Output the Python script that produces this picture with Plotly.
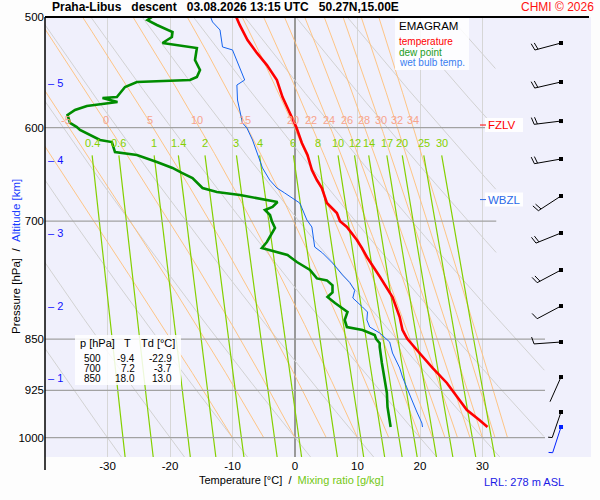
import numpy as np
import plotly.graph_objects as go

# Praha-Libus descent 03.08.2026 13:15 UTC
# temperature [hPa] / [degC]
t_p = [500, 506.6, 519.3, 530.5, 541.2, 554.7, 570.5, 585.7, 599.4, 615.4, 627.6, 643.4,
       654.1, 662.7, 679.3, 690.6, 700, 706.7, 722.0, 731.6, 742.5, 767.4, 793.1, 819.7,
       837.4, 848.6, 850, 865.5, 891.5, 913.8, 935.2, 955.4, 971.3, 982.6]
t_val = [-9.4, -8.85, -7.6, -6.1, -4.5, -2.9, -2.0, -0.85, 0.2, 1.1, 2.0, 2.7,
         3.5, 4.3, 5.1, 6.7, 7.2, 8.3, 9.9, 10.7, 11.5, 13.6, 15.6, 16.75,
         17.2, 17.9, 18.0, 19.5, 22.0, 24.3, 25.9, 27.5, 29.5, 30.8]

# dew point
td_p = [500, 502.5, 506.6, 512.5, 516.8, 521.9, 526.2, 536.7, 545.6, 552.0, 554.7, 556.5,
        561.1, 570.5, 571.4, 575.2, 579.0, 582.8, 587.6, 595.4, 599.4, 602.3, 612.3, 614.4,
        624.6, 627.7, 634.9, 641.2, 646.5, 651.9, 662.7, 667.1, 670.4, 674.9, 678.2, 683.8,
        687.2, 692.9, 700, 707.9, 724.4, 731.6, 736.4, 740.1, 748.7, 758.6, 769.2, 771.7,
        778.1, 787.1, 793.1, 801.0, 813.0, 823.7, 833.3, 837.4, 844.4, 850, 855.8, 861.2,
        884.2, 909.3, 929.0, 950.7, 971.3, 982.6]
td_val = [-22.9, -23.6, -22.1, -19.6, -19.7, -21.2, -15.7, -16.0, -15.2, -15.7, -16.8, -25.3,
          -27.2, -28.5, -30.8, -28.4, -33.3, -35.2, -36.4, -36.0, -34.9, -34.4, -31.2, -29.3,
          -28.8, -25.3, -22.1, -19.6, -18.1, -16.4, -14.8, -12.5, -8.8, -5.2, -2.8, -3.6,
          -4.8, -4.0, -3.7, -3.2, -4.5, -5.3, -2.8, -1.2, 0.3, 2.4, 3.5, 5.1,
          6.0, 6.0, 5.2, 6.4, 8.4, 7.95, 8.3, 10.8, 12.75, 13.0, 13.55, 13.55,
          13.9, 14.35, 14.7, 14.8, 15.15, 15.3]

# wet bulb temperature
tw_p = [500, 504.1, 510.8, 525.3, 527.9, 542.9, 554.7, 559.3, 573.3, 595.4, 600.3, 612.3,
        625.6, 641.2, 654.1, 662.7, 668.2, 673.7, 679.3, 684.9, 692.9, 698.6, 706.7, 713.7,
        730.4, 737.6, 749.9, 764.9, 774.3, 784.5, 794.4, 806.3, 813.0, 823.7, 833.3, 841.6,
        854.2, 869.8, 891.5, 904.9, 919.9, 939.8, 958.6, 976.1, 982.6]
tw_val = [-13.5, -13.2, -12.0, -11.6, -10.0, -8.85, -8.05, -9.3, -9.2, -8.4, -7.7, -6.8,
          -6.0, -5.2, -4.05, -2.9, -1.65, -0.4, 0.75, 1.1, 1.55, 1.9, 2.7, 2.85,
          3.15, 4.4, 6.0, 7.6, 8.75, 9.55, 9.25, 10.8, 11.6, 11.5, 11.95, 13.55,
          15.15, 15.6, 16.75, 17.2, 17.9, 18.7, 19.5, 20.3, 20.4]

table_p = [500, 700, 850]
table_t = [-9.4, 7.2, 18.0]
table_td = [-22.9, -3.7, 13.0]

# wind every 500 m: direction [deg], speed [kt]
wind_p = [521.9, 556.5, 593.5, 631.8, 671.5, 713.7, 758.6, 805.0, 854.2, 904.9, 958.6]
wind_dir = [255, 257, 263, 260, 237, 248, 242, 242, 266, 204, 199]
wind_kt = [20, 20, 20, 20, 20, 20, 20, 10, 10, 2, 5]
sfc_p, sfc_dir, sfc_kt = 982.6, 198, 5

alt_km = [1, 2, 3, 4, 5]
alt_p = [906.4, 805.0, 713.7, 632.8, 557.4]

fzlv_p = 597.4
wbzl_p = 675.5
lrl_m = 278

# diagram lines
isotherms = [-30, -20, -10, 0, 10, 20, 30]
isobars = [600, 700, 850, 925, 1000]
pres_ticks = [500, 600, 700, 850, 925, 1000]
theta_c = list(range(-30, 140, 10))
theta_w = [-10, -5, 0, 5, 10, 15, 20, 22, 24, 26, 28, 30, 32, 34]
mix_ratio = [0.4, 0.6, 1, 1.4, 2, 3, 4, 6, 8, 10, 12, 14, 17, 20, 25, 30]

# frame in pixels
L, R, TOP, BOT = 45, 591, 17, 457
T_LEFT, T_RIGHT = -40.0, 47.36
P_TOP, P_BOT = 500.0, 1032.35
LNP = np.log(P_BOT / P_TOP)
BARB_X = 561
FONT = "Liberation Sans, Arial, sans-serif"


def xpix(t):
    return L + (t - T_LEFT) / (T_RIGHT - T_LEFT) * (R - L)


def ypix(p):
    return TOP + np.log(p / P_TOP) / LNP * (BOT - TOP)


def pix2t(x):
    return T_LEFT + (x - L) / (R - L) * (T_RIGHT - T_LEFT)


def pix2p(y):
    return P_TOP * np.exp((y - TOP) / (BOT - TOP) * LNP)


def fx(x):
    return (x - L) / (R - L)


def fy(y):
    return (BOT - y) / (BOT - TOP)


def t_limit(p):
    return np.interp(p, [800, 850], [32.2, 40.0])


def merge(curves):
    xs, ys = [], []
    for t, p in curves:
        for a, b in zip(t, p):
            xs.append(None if a > t_limit(b) else float(a))
            ys.append(float(b))
        xs.append(None)
        ys.append(None)
    return xs, ys


fig = go.Figure()

# dry adiabats
pp = np.geomspace(P_TOP, P_BOT, 300)
dry = [((th + 273.15) * (pp / 1000) ** 0.2857 - 273.15, pp) for th in theta_c]
x, y = merge(dry)
fig.add_trace(go.Scatter(x=x, y=y, mode="lines", line=dict(color="#d2d2d2", width=1)))


# pseudo-adiabats
def es(tk):
    return 6.112 * np.exp(17.67 * (tk - 273.15) / (tk - 29.65))


def lapse(tk, p):
    e = es(tk)
    r = 0.622 * e / (p - e)
    return (287.04 * tk + 2.501e6 * r) / (p * (1005.7 + 2.501e6 ** 2 * r * 0.622 / (287.04 * tk ** 2)))


ps = np.arange(1000, 496, -2.0)
tk = np.array(theta_w, dtype=float) + 273.15
rows = [tk.copy()]
for i in range(len(ps) - 1):
    p, h = ps[i], ps[i + 1] - ps[i]
    k1 = lapse(tk, p)
    k2 = lapse(tk + h / 2 * k1, p + h / 2)
    k3 = lapse(tk + h / 2 * k2, p + h / 2)
    k4 = lapse(tk + h * k3, p + h)
    tk = tk + h / 6 * (k1 + 2 * k2 + 2 * k3 + k4)
    rows.append(tk.copy())
moist = np.array(rows) - 273.15
x, y = merge([(moist[:, j], ps) for j in range(len(theta_w))])
fig.add_trace(go.Scatter(x=x, y=y, mode="lines", line=dict(color="#ffc078", width=0.9)))

# mixing ratio lines
pm = np.geomspace(628, P_BOT, 120)
mix = []
for w in mix_ratio:
    lx = np.log(w * pm / (622 + w) / 6.112)
    mix.append((243.5 * lx / (17.67 - lx), pm))
x, y = merge(mix)
fig.add_trace(go.Scatter(x=x, y=y, mode="lines", line=dict(color="#84d000", width=1.2)))

# isobars
xb, yb = [], []
for p in isobars:
    xb += [T_LEFT, float(t_limit(p)), None]
    yb += [p, p, None]
fig.add_trace(go.Scatter(x=xb, y=yb, mode="lines", line=dict(color="#a2a2a2", width=1.3)))

# profiles
fig.add_trace(go.Scatter(x=tw_val, y=tw_p, mode="lines", line=dict(color="#1464f0", width=1)))
fig.add_trace(go.Scatter(x=td_val, y=td_p, mode="lines", line=dict(color="#008c00", width=2.6)))
fig.add_trace(go.Scatter(x=t_val, y=t_p, mode="lines", line=dict(color="#ff0000", width=2.6)))


# wind barbs
def barb(p, d, kt):
    x0, y0 = BARB_X, float(ypix(p))
    ang = np.radians(d)
    u = np.array([np.sin(ang), -np.cos(ang)])
    n = np.array([np.cos(ang), np.sin(ang)])
    start = np.array([x0, y0])
    end = start + 27 * u
    segs = [(start, end)]
    full, half = kt // 10, (kt % 10) >= 5
    for k in range(full):
        q = end - 3.2 * k * u
        segs.append((q, q + 7 * n + 2 * u))
    if half:
        q = end - 3.2 * full * u
        segs.append((q, q + 4 * n + 1 * u))
    xs, ys = [], []
    for a, b in segs:
        xs += [pix2t(a[0]), pix2t(b[0]), None]
        ys += [pix2p(a[1]), pix2p(b[1]), None]
    return xs, ys


bx, by = [], []
for p, d, s in zip(wind_p, wind_dir, wind_kt):
    a, b = barb(p, d, s)
    bx += a
    by += b
fig.add_trace(go.Scatter(x=bx, y=by, mode="lines", line=dict(color="black", width=1)))
fig.add_trace(go.Scatter(x=[pix2t(BARB_X)] * len(wind_p), y=wind_p, mode="markers",
                         marker=dict(symbol="square", size=4, color="black")))
a, b = barb(sfc_p, sfc_dir, sfc_kt)
fig.add_trace(go.Scatter(x=a, y=b, mode="lines", line=dict(color="#0020ff", width=1)))
fig.add_trace(go.Scatter(x=[pix2t(BARB_X)], y=[sfc_p], mode="markers",
                         marker=dict(symbol="square", size=4, color="#0020ff")))

ann = []
shapes = []


def text(x, y, s, size=11, color="black", anchor="left", **kw):
    ann.append(dict(x=fx(x), y=fy(y), xref="paper", yref="paper", text=s, showarrow=False,
                    xanchor=anchor, yanchor="middle", font=dict(family=FONT, size=size, color=color),
                    **kw))


def box(x0, y0, x1, y1, fill="rgba(255,255,255,0.85)"):
    shapes.append(dict(type="rect", xref="paper", yref="paper", x0=fx(x0), x1=fx(x1),
                       y0=fy(y0), y1=fy(y1), fillcolor=fill, line=dict(width=0), layer="above"))


# adiabat and mixing ratio labels
for j, th in enumerate(theta_w):
    tl = np.interp(592.5, ps[::-1], moist[::-1, j])
    if xpix(tl) > 55:
        text(xpix(tl) + 2, ypix(592.5), str(th), size=11, color="#f7a48c", anchor="center")
for (tline, pline), w in zip(mix, mix_ratio):
    text(xpix(tline[0]), ypix(615.4), f"{w:g}", size=11, color="#84d000", anchor="center")

# altitude marks
for km, p in zip(alt_km, alt_p):
    text(46, ypix(p), "\u2013\u00a0" + str(km), size=11, color="#1010ff")

# freezing / wet bulb zero levels
for p, name, col in [(fzlv_p, "FZLV", "#ff0000"), (wbzl_p, "WBZL", "#2a6ae8")]:
    yy = float(ypix(p))
    box(485, yy - 7, 523, yy + 7, fill="rgba(255,255,255,0.9)")
    shapes.append(dict(type="line", xref="paper", yref="paper", x0=fx(480), x1=fx(486),
                       y0=fy(yy), y1=fy(yy), line=dict(color=col, width=1), layer="above"))
    text(486, yy, name, size=11.5, color=col)

# legend
box(395, 17, 469, 70)
text(397, 26, "EMAGRAM", size=11.5)
text(397, 42, "temperature", size=10, color="#ff0000")
text(397, 52, "dew point", size=10, color="#1c9c1c")
text(397, 62, "wet bulb temp.", size=10, color="#3a7ef0")

# table
box(75, 335, 181, 385)
text(78, 343, "p [hPa]", size=11)
text(127, 343, "T", size=11, anchor="center")
text(177, 343, "Td [\u00b0C]", size=11, anchor="right")
for i, (p, t, td) in enumerate(zip(table_p, table_t, table_td)):
    yy = 358 + 10 * i
    text(103, yy, str(p), size=10, anchor="right")
    text(137, yy, f"{t:.1f}", size=10, anchor="right")
    text(174, yy, f"{td:.1f}", size=10, anchor="right")

# titles
sp = "\u00a0"
text(50, 7, "<b>Praha-Libus" + sp * 3 + "descent" + sp * 3 + "03.08.2026 13:15 UTC" + sp * 3
     + "50.27N,15.00E</b>", size=12)
text(596, 7, "CHMI \u00a9 2026", size=12, color="#ff1010", anchor="right")
text(197, 480, "Temperature [\u00b0C]" + sp * 2 + "/" + sp * 2
     + "<span style='color:#74c814'>Mixing ratio [g/kg]</span>", size=11)
text(482, 482, f"LRL: {lrl_m} m ASL", size=11, color="#1a1ae6")
ann.append(dict(x=fx(8), y=fy(257), xref="paper", yref="paper", textangle=-90, showarrow=False,
                text="Pressure [hPa]" + sp * 2 + "/" + sp * 2
                     + "<span style='color:#1a3cff'>Altitude [km]</span>",
                font=dict(family=FONT, size=11.5, color="black")))

# frame lines
shapes.append(dict(type="line", xref="paper", yref="paper", x0=0, x1=0, y0=fy(470), y1=1,
                   line=dict(color="black", width=1.5), layer="above"))
shapes.append(dict(type="line", xref="paper", yref="paper", x0=0, x1=fx(589), y0=1, y1=1,
                   line=dict(color="black", width=2), layer="above"))

fig.update_layout(
    width=600, height=500,
    margin=dict(l=L, r=600 - R, t=TOP, b=500 - BOT, autoexpand=False),
    paper_bgcolor="#fdfdfd", plot_bgcolor="#f0f0fc",
    showlegend=False,
    annotations=ann, shapes=shapes,
    xaxis=dict(range=[T_LEFT, T_RIGHT], tickvals=isotherms, ticktext=[str(t) for t in isotherms],
               showgrid=True, gridcolor="#d6d6d6", gridwidth=1,
               zeroline=True, zerolinecolor="#999999", zerolinewidth=1.5,
               ticks="", showline=False, automargin=False,
               tickfont=dict(family=FONT, size=11.5, color="black")),
    yaxis=dict(type="log", range=[np.log10(P_BOT), np.log10(P_TOP)],
               tickvals=pres_ticks, ticktext=[str(p) for p in pres_ticks],
               showgrid=False, zeroline=False, ticks="", showline=False, automargin=False,
               tickfont=dict(family=FONT, size=11.5, color="black")),
)

fig.write_html("out.html", config={"displayModeBar": False},
               post_script="document.body.style.margin='0px';")
